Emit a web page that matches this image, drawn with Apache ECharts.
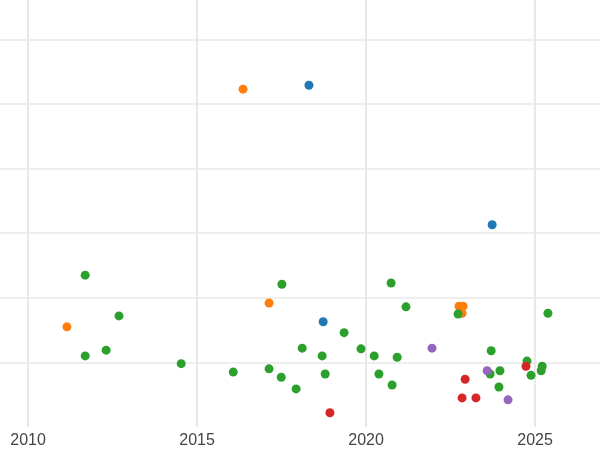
<!DOCTYPE html>
<html>
<head>
<meta charset="utf-8">
<script src="https://cdn.jsdelivr.net/npm/echarts@6/dist/echarts.min.js"></script>
<style>html,body{margin:0;padding:0;background:#fff}#main{width:600px;height:450px}</style>
</head>
<body>
<div id="main"></div>
<script>
// values: [year, value]
var xTicks = [2010, 2015, 2020, 2025];
var yTicks = [1, 2, 3, 4, 5, 6];
var blueData = [[2018.31,5.29],[2018.73,1.63],[2023.73,3.13]];
var orangeData = [[2016.36,5.23],[2011.15,1.55],[2017.13,1.92],[2022.75,1.87],[2022.87,1.87],[2022.84,1.76]];
var greenData = [[2011.69,2.35],[2012.69,1.72],[2011.69,1.10],[2012.31,1.19],[2014.53,0.98],[2016.07,0.85],
  [2017.51,2.21],[2017.13,0.90],[2017.49,0.77],[2017.93,0.59],[2018.11,1.22],[2018.70,1.10],[2018.79,0.82],
  [2019.35,1.46],[2019.85,1.21],[2020.24,1.10],[2020.38,0.82],[2020.77,0.65],[2020.74,2.23],[2020.92,1.08],
  [2021.18,1.86],[2022.72,1.75],[2023.70,1.18],[2023.67,0.82],[2023.96,0.87],[2023.93,0.62],[2024.76,1.02],
  [2024.88,0.80],[2025.21,0.94],[2025.18,0.87],[2025.38,1.76]];
var redData = [[2018.93,0.22],[2022.93,0.74],[2022.84,0.45],[2023.25,0.45],[2024.73,0.94]];
var purpleData = [[2021.95,1.22],[2023.58,0.87],[2024.20,0.42]];

var chart = echarts.init(document.getElementById('main'));
function ser(data, color) {
  return {type:'scatter', data:data, symbolSize:9, itemStyle:{color:color, opacity:1}};
}
chart.setOption({
  animation:false,
  grid:{left:0, right:0, top:0, bottom:23, containLabel:false},
  xAxis:{type:'value', min:2009.17, max:2026.92,
    axisLine:{show:false},
    axisTick:{show:false, customValues:xTicks},
    axisLabel:{fontSize:16, color:'#444', margin:6, customValues:xTicks,
      formatter:function(v){ return String(v); }},
    splitLine:{lineStyle:{color:'#e8e8e8', width:2}}},
  yAxis:{type:'value', min:0, max:6.61,
    axisLine:{show:false},
    axisTick:{show:false, customValues:yTicks},
    axisLabel:{show:false, customValues:yTicks},
    splitLine:{lineStyle:{color:'#e8e8e8', width:1.5}}},
  series:[
    ser(blueData,'#1f77b4'),
    ser(orangeData,'#ff7f0e'),
    ser(greenData,'#2ca02c'),
    ser(redData,'#d62728'),
    ser(purpleData,'#9467bd')
  ]
});
</script>
</body>
</html>
